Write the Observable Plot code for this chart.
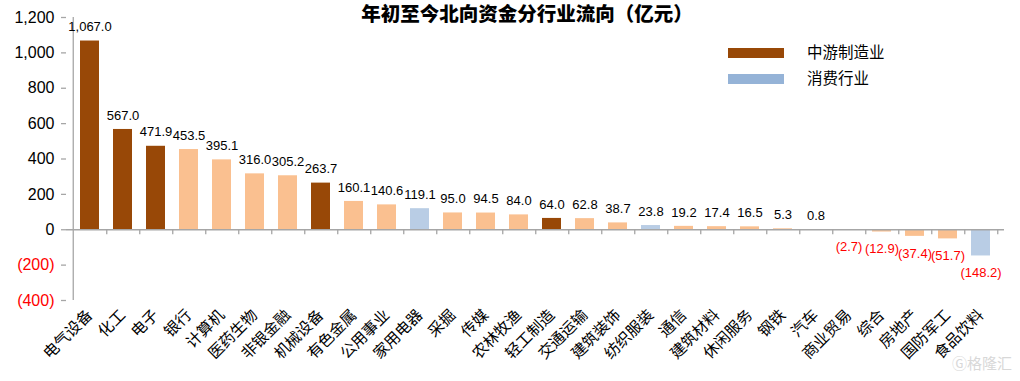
<!DOCTYPE html>
<html>
<head>
<meta charset="utf-8">
<script src="https://cdn.jsdelivr.net/npm/d3@7"></script>
<script src="https://cdn.jsdelivr.net/npm/@observablehq/plot@0.6"></script>
<style>
  html, body { margin: 0; padding: 0; background: #fff; }
  #wrap { position: relative; width: 1020px; height: 381px; font-family: "Liberation Sans", Arial, "Noto Sans CJK SC", sans-serif; }
  #title { position: absolute; left: 0; width: 1054px; top: 1px; text-align: center; font-family: "Noto Sans CJK SC", sans-serif; font-weight: 900; font-size: 19.5px; line-height: 24px; color: #000; }
  .leg { position: absolute; left: 728px; height: 16px; font-family: "Noto Sans CJK SC", sans-serif; font-size: 15.5px; line-height: 16px; color: #000; }
  .leg span.sw { position: absolute; left: 0; top: 3px; width: 56px; height: 10px; }
  .leg span.tx { position: absolute; left: 79px; top: -2px; white-space: nowrap; }
  #wm { position: absolute; left: 952px; top: 352px; font-family: "Noto Sans CJK SC", sans-serif; font-size: 15px; color: #d8d8d8; }
</style>
</head>
<body>
<div id="wrap">
  <div id="chart"></div>
  <div id="title"></div>
  <div class="leg" style="top:45px"><span class="sw" id="sw1"></span><span class="tx" id="lg1"></span></div>
  <div class="leg" style="top:71px"><span class="sw" id="sw2"></span><span class="tx" id="lg2"></span></div>
  <div id="wm">Ⓖ格隆汇</div>
</div>
<script>
const title = "年初至今北向资金分行业流向（亿元）";
const categories = ["电气设备","化工","电子","银行","计算机","医药生物","非银金融","机械设备","有色金属","公用事业","家用电器","采掘","传媒","农林牧渔","轻工制造","交通运输","建筑装饰","纺织服装","通信","建筑材料","休闲服务","钢铁","汽车","商业贸易","综合","房地产","国防军工","食品饮料"];
const values = [1067.0,567.0,471.9,453.5,395.1,316.0,305.2,263.7,160.1,140.6,119.1,95.0,94.5,84.0,64.0,62.8,38.7,23.8,19.2,17.4,16.5,5.3,0.8,-2.7,-12.9,-37.4,-51.7,-148.2];
const groups = ["中游制造业","中游制造业","中游制造业","其他","其他","其他","其他","中游制造业","其他","其他","消费行业","其他","其他","其他","中游制造业","其他","其他","消费行业","其他","其他","其他","其他","消费行业","消费行业","其他","其他","其他","消费行业"];
const legendNames = ["中游制造业","消费行业"];
const yTicks = [-400,-200,0,200,400,600,800,1000,1200];

const groupDomain = ["中游制造业","消费行业","其他"];
const groupColors = ["#984807","#B9CDE5","#FAC090"];
const legendColors = ["#984807","#95B3D7"];

const data = categories.map((c,i)=>({cat:c, value:values[i], group:groups[i]}));

const W = 1020, H = 381, mL = 66, mR = 16, mT = 17, mB = 81;
const step = (W - mL - mR) / categories.length;
const pxPerUnit = (H - mT - mB) / 1600;
const tickLen = 5 / pxPerUnit;
const axisColor = "#A6A6A6";

const fmtNum = d3.format(",.1f");
const fmtTick = d => d < 0 ? `(${d3.format(",")(-d)})` : d3.format(",")(d);

const chart = Plot.plot({
  width: W, height: H,
  marginTop: mT, marginBottom: mB, marginLeft: mL, marginRight: mR,
  style: {fontFamily: '"Liberation Sans", Arial, "Noto Sans CJK SC", sans-serif', background: "#fff", color: "#000"},
  x: {domain: categories, paddingInner: 0.43, paddingOuter: 0.215, label: null},
  y: {domain: [-400, 1200], label: null},
  color: {domain: groupDomain, range: groupColors},
  marks: [
    Plot.barY(data, {x: "cat", y: "value", fill: "group"}),
    Plot.ruleY([0], {stroke: axisColor, strokeWidth: 1.3}),
    Plot.ruleX(categories, {x: d => d, y1: 0, y2: -tickLen, dx: step/2, stroke: axisColor, strokeWidth: 1.3}),
    Plot.ruleX([categories[0]], {x: d => d, y1: -400, y2: 1200, dx: -step/2, stroke: axisColor, strokeWidth: 1.3}),
    Plot.axisY(yTicks, {tickSize: 5, tickFormat: () => "", stroke: axisColor, strokeWidth: 1.3}),
    Plot.text(yTicks, {y: d => d, frameAnchor: "left", dx: -12, textAnchor: "end", text: fmtTick, fill: d => d < 0 ? "#FF0000" : "#000", fontSize: 16}),
    Plot.axisX({tickSize: 0, tickRotate: -45, tickPadding: 12, fontSize: 15.5, fontFamily: '"Noto Sans CJK SC", sans-serif', fill: "#000"}),
    Plot.text(data.filter(d => d.value >= 0), {x: "cat", y: "value", text: d => fmtNum(d.value), dy: -14, fontSize: 13, fill: "#000"}),
    Plot.text(data.filter(d => d.value < 0), {x: "cat", y: "value", text: d => `(${fmtNum(-d.value)})`, dy: 17, fontSize: 13, fill: "#FF0000"})
  ]
});
document.getElementById("chart").appendChild(chart);
document.getElementById("title").textContent = title;
document.getElementById("lg1").textContent = legendNames[0];
document.getElementById("lg2").textContent = legendNames[1];
document.getElementById("sw1").style.background = legendColors[0];
document.getElementById("sw2").style.background = legendColors[1];
</script>
</body>
</html>
